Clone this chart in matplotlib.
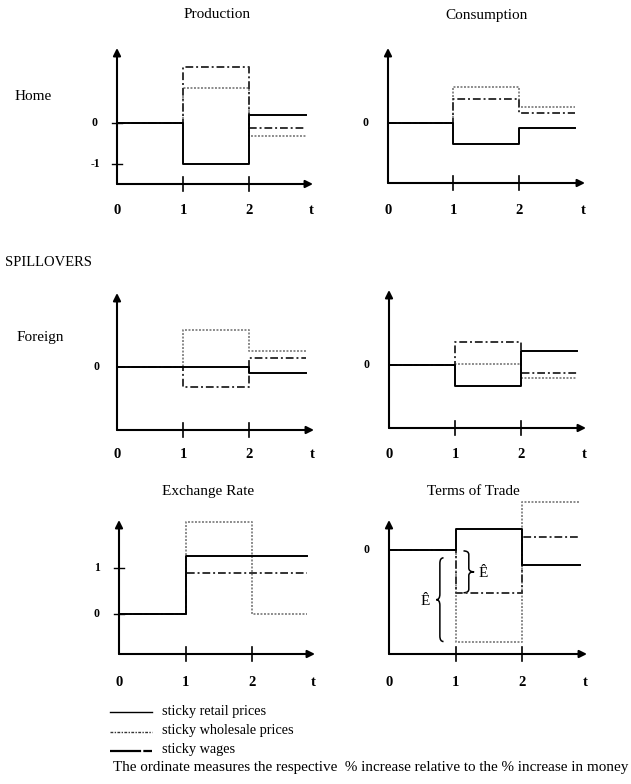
import matplotlib
matplotlib.use('Agg')
import matplotlib.pyplot as plt
from matplotlib.path import Path
from matplotlib.patches import PathPatch
from matplotlib.lines import Line2D

plt.rcParams['font.family'] = ['Liberation Serif', 'DejaVu Serif']

W, H = 631, 784

# step values for periods [0,1), [1,2), [2,...)
periods = [0, 1, 2]
prod_retail = [0, -1.0, 0.2]
prod_wholesale = [0, 1.37, -0.13]
prod_wages = [0, 0.86, -0.31]
cons_retail = [0, -0.52, -0.13]
cons_wholesale = [0, 0.58, 0.24]
cons_wages = [0, 0.88, 0.40]
fprod_retail = [0, 0, -0.15]
fprod_wholesale = [0, -0.48, 0.23]
fprod_wages = [0, 0.90, 0.40]
fcons_retail = [0, -0.51, 0.35]
fcons_wholesale = [0, 0.55, -0.20]
fcons_wages = [0, 0.02, -0.31]
exch_retail = [0, 1.27, 1.27]
exch_wholesale = [0, 0.90, 0.90]
exch_wages = [0, 2.0, 0]
tot_retail = [0, 0.45, -0.33]
tot_wholesale = [0, -0.93, 0.29]
tot_wages = [0, -1.99, 1.05]

x_tick_labels = ['0', '1', '2', 't']

styles = {
    'retail': dict(color='black', lw=1.4, ls='-'),
    'wholesale': dict(color='#333333', lw=1.4, ls=(0, (4, 1.5, 1, 1.5))),
    'wages': dict(color='#8a8a8a', lw=1.4, ls=(0, (1, 0.8))),
}

fig = plt.figure(figsize=(W / 100, H / 100), dpi=100)


def make_panel(x0, xunit, xaxis, top, zero, yunit, xend, lab_dy, t_end, series, yticks=()):
    # axes box in pixels: x from t=0 to arrow end, y from x-axis to arrow top
    ax = fig.add_axes([x0 / W, 1 - xaxis / H, (xend - x0) / W, (xaxis - top) / H])
    ax.set_xlim(0, (xend - x0) / xunit)
    ylo, yhi = (zero - xaxis) / yunit, (zero - top) / yunit
    ax.set_ylim(ylo, yhi)
    ax.axis('off')
    arr = dict(arrowstyle='-|>', color='black', lw=1.5, mutation_scale=11, shrinkA=0, shrinkB=0)
    ax.annotate('', xy=(ax.get_xlim()[1], ylo), xytext=(0, ylo), arrowprops=arr, annotation_clip=False)
    ax.annotate('', xy=(0, yhi), xytext=(0, ylo), arrowprops=arr, annotation_clip=False)
    # x ticks
    tk = 7 / yunit
    for t in periods[1:]:
        ax.plot([t, t], [ylo - tk, ylo + tk], color='black', lw=1.2, clip_on=False)
    xl = periods + [ax.get_xlim()[1] * 0.99]
    for t, s in zip(xl, x_tick_labels):
        ax.annotate(s, xy=(t, ylo), xytext=(0, -lab_dy), textcoords='offset pixels',
                    ha='center', va='center', fontsize=10.5, fontweight='bold', annotation_clip=False)
    for yv, s in yticks:
        ax.plot([-5 / xunit, 5 / xunit], [yv, yv], color='black', lw=1.0, clip_on=False)
        ax.annotate(s, xy=(0, yv), xytext=(-22, 0), textcoords='offset pixels',
                    ha='center', va='center', fontsize=8.5, fontweight='bold', annotation_clip=False)
    tt = periods + [t_end]
    for name in ['wages', 'wholesale', 'retail']:
        vals = series[name]
        ax.step(tt, vals + [vals[-1]], where='post', clip_on=False, **styles[name])
    return ax


ax1 = make_panel(117, 66, 184, 48, 123, 41, 313, 27, 2.87,
                 dict(retail=prod_retail, wholesale=prod_wholesale, wages=prod_wages),
                 yticks=[(0, '0'), (-1, '-1')])
ax2 = make_panel(388, 65.5, 183, 48, 123, 41, 585, 27, 2.85,
                 dict(retail=cons_retail, wholesale=cons_wholesale, wages=cons_wages),
                 yticks=[])
ax2.annotate('0', xy=(0, 0), xytext=(-22, 0), textcoords='offset pixels', ha='center',
             va='center', fontsize=8.5, fontweight='bold', annotation_clip=False)
ax3 = make_panel(117, 66, 430, 293, 367, 41, 314, 24, 2.87,
                 dict(retail=fprod_retail, wholesale=fprod_wholesale, wages=fprod_wages))
ax3.annotate('0', xy=(0, 0), xytext=(-20, 0), textcoords='offset pixels', ha='center',
             va='center', fontsize=8.5, fontweight='bold', annotation_clip=False)
ax4 = make_panel(389, 66, 428, 290, 365, 41, 586, 26, 2.85,
                 dict(retail=fcons_retail, wholesale=fcons_wholesale, wages=fcons_wages))
ax4.annotate('0', xy=(0, 0), xytext=(-22, 0), textcoords='offset pixels', ha='center',
             va='center', fontsize=8.5, fontweight='bold', annotation_clip=False)
ax5 = make_panel(119, 66.5, 654, 520, 614, 46, 315, 28, 2.83,
                 dict(retail=exch_retail, wholesale=exch_wholesale, wages=exch_wages),
                 yticks=[(0, '0'), (1, '1')])
ax6 = make_panel(389, 66.5, 654, 520, 550, 46, 587, 28, 2.87,
                 dict(retail=tot_retail, wholesale=tot_wholesale, wages=tot_wages))
ax6.annotate('0', xy=(0, 0), xytext=(-22, 0), textcoords='offset pixels', ha='center',
             va='center', fontsize=8.5, fontweight='bold', annotation_clip=False)


def brace(ax, x, y_top, y_bot, w, r):
    # vertical curly brace; w > 0 tip points right, w < 0 tip points left
    m = (y_top + y_bot) / 2
    h = w / 2
    verts = [(x, y_top), (x + h, y_top), (x + h, y_top - r),
             (x + h, m + r),
             (x + h, m), (x + w, m),
             (x + h, m), (x + h, m - r),
             (x + h, y_bot + r),
             (x + h, y_bot), (x, y_bot)]
    codes = [Path.MOVETO, Path.CURVE3, Path.CURVE3, Path.LINETO,
             Path.CURVE3, Path.CURVE3, Path.CURVE3, Path.CURVE3,
             Path.LINETO, Path.CURVE3, Path.CURVE3]
    ax.add_patch(PathPatch(Path(verts, codes), fill=False, lw=1.1, color='black', clip_on=False))


# small brace: from 0 to the wholesale drop
brace(ax6, 1.12, tot_retail[0] - 0.02, tot_wholesale[1], 0.16, 0.08)
ax6.text(1.42, (tot_retail[0] + tot_wholesale[1]) / 2 - 0.05, 'Ê', fontsize=11,
         ha='center', va='center')
# big brace: down to the wages drop
brace(ax6, 0.82, -0.17, tot_wages[1], -0.11, 0.12)
ax6.text(0.54, (-0.17 + tot_wages[1]) / 2 - 0.05, 'Ê', fontsize=11, ha='center', va='center')


def ftext(px, py, s, **kw):
    fig.text(px / W, 1 - py / H, s, **kw)


ftext(217, 15, 'Production', fontsize=11, ha='center', va='center')
ftext(487, 15, 'Consumption', fontsize=11, ha='center', va='center')
ftext(208, 492, 'Exchange Rate', fontsize=11, ha='center', va='center')
ftext(473, 491, 'Terms of Trade', fontsize=11, ha='center', va='center')
ftext(15, 97, 'Home', fontsize=11, ha='left', va='center')
ftext(5, 262, 'SPILLOVERS', fontsize=10.5, ha='left', va='center')
ftext(17, 337, 'Foreign', fontsize=11, ha='left', va='center')

legend_rows = [
    ('sticky retail prices', dict(color='black', lw=1.0, ls='-')),
    ('sticky wholesale prices', dict(color='#333333', lw=1.0, ls=(0, (2, 1, 1, 1)))),
    ('sticky wages', dict(color='black', lw=1.6, ls=(0, (14, 1, 4, 1)))),
]
for i, (lab, st) in enumerate(legend_rows):
    y = 712 + i * 19.5
    fig.add_artist(Line2D([110 / W, 152 / W], [1 - y / H, 1 - y / H], transform=fig.transFigure, **st))
    ftext(162, y - 1, lab, fontsize=10.3, ha='left', va='center')

ftext(113, 768, 'The ordinate measures the respective  % increase relative to the % increase in money',
      fontsize=10.9, ha='left', va='center')

plt.savefig('out.png', dpi=100)
